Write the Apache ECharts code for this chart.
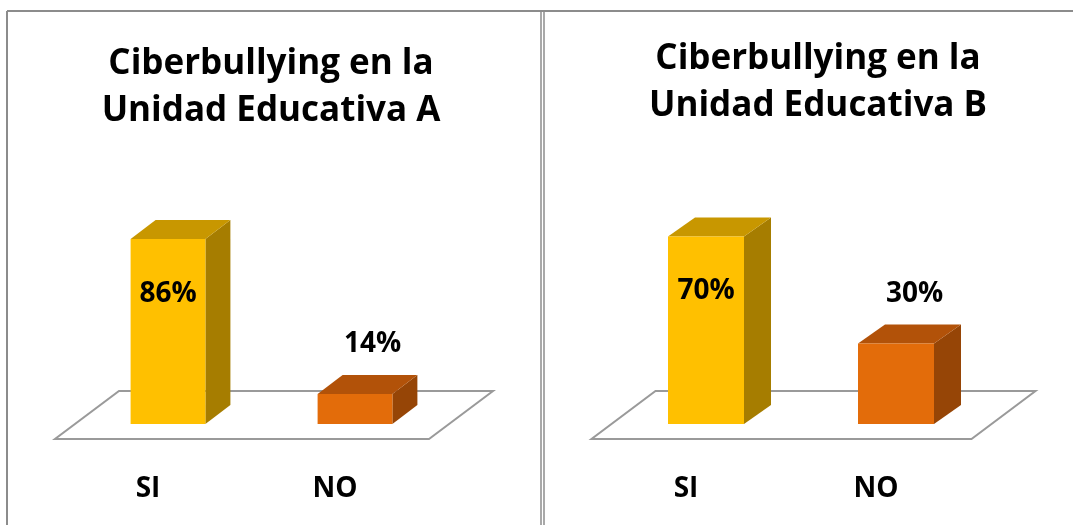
<!DOCTYPE html>
<html>
<head>
<meta charset="utf-8">
<script src="https://cdn.jsdelivr.net/npm/echarts@6/dist/echarts.min.js"></script>
<style>
  html, body { margin: 0; padding: 0; background: #fff; }
  #chart { width: 1073px; height: 525px; }
</style>
</head>
<body>
<div id="chart"></div>
<script>
// datos
var categories = ['SI', 'NO']
var valuesA = [86, 14]
var valuesB = [70, 30]
var titleA = 'Ciberbullying en la\nUnidad Educativa A'
var titleB = 'Ciberbullying en la\nUnidad Educativa B'

var FONT = '"Open Sans", "DejaVu Sans", sans-serif'
// colores: frente, arriba, lado
var barColors = [
  ['#FFC000', '#C89700', '#A67D00'],
  ['#E36C0A', '#B25209', '#964506']
]

function floorRender(params, api) {
  var cs = params.coordSys
  var bottom = cs.y + cs.height
  var l = cs.x, r = cs.x + cs.width
  return {
    type: 'polygon',
    shape: {
      points: [
        [l - 19.5, bottom + 15],
        [r - 19.5, bottom + 15],
        [r + 44.5, bottom - 33],
        [l + 44.5, bottom - 33]
      ]
    },
    style: { fill: '#fff', stroke: '#9a9a9a', lineWidth: 2 },
    z2: 0
  }
}

function makeBarRender(dx, dy) {
  return function (params, api) {
    var idx = api.value(0)
    var val = api.value(1)
    var base = api.coord([idx, 0])
    var top = api.coord([idx, val])
    var bw = api.size([1, 0])[0] * 0.4
    var x0 = base[0] - bw / 2
    var x1 = x0 + bw
    var yT = top[1]
    var yB = base[1]
    var c = barColors[idx]
    var inside = idx === 0
    return {
      type: 'group',
      children: [
        {
          type: 'polygon',
          shape: { points: [[x1, yT], [x1 + dx, yT - dy], [x1 + dx, yB - dy], [x1, yB]] },
          style: { fill: c[2] }
        },
        {
          type: 'polygon',
          shape: { points: [[x0, yT], [x1, yT], [x1 + dx, yT - dy], [x0 + dx, yT - dy]] },
          style: { fill: c[1] }
        },
        {
          type: 'rect',
          shape: { x: x0, y: yT, width: bw, height: yB - yT },
          style: { fill: c[0] }
        },
        {
          type: 'text',
          z2: 10,
          style: {
            text: val + '%',
            x: inside ? base[0] : base[0] + dx / 2 + 5,
            y: inside ? yT + 55 : yT - 50,
            textAlign: 'center',
            textVerticalAlign: 'middle',
            fill: '#000',
            font: 'bold 28px ' + FONT
          }
        }
      ]
    }
  }
}

function xAxisFor(gridIndex) {
  return {
    type: 'category',
    gridIndex: gridIndex,
    data: categories,
    axisLine: { show: false },
    axisTick: { show: false },
    splitLine: { show: false },
    axisLabel: {
      margin: 51,
      padding: [0, 40, 0, 0],
      color: '#000',
      fontFamily: FONT,
      fontWeight: 'bold',
      fontSize: 28
    }
  }
}

function yAxisFor(gridIndex) {
  return { type: 'value', gridIndex: gridIndex, min: 0, max: 100, show: false }
}

var chart = echarts.init(document.getElementById('chart'))

var titleStyle = { fontFamily: FONT, fontWeight: 'bold', fontSize: 35, lineHeight: 47, color: '#000' }

var option = {
  backgroundColor: '#fff',
  animation: false,
  title: [
    { text: titleA, left: 266, top: 36, textAlign: 'center', textStyle: titleStyle },
    { text: titleB, left: 813, top: 31, textAlign: 'center', textStyle: titleStyle }
  ],
  graphic: [
    { type: 'line', shape: { x1: 7, y1: 11, x2: 1073, y2: 11 }, style: { stroke: '#8c8c8c', lineWidth: 2 } },
    { type: 'line', shape: { x1: 7, y1: 11, x2: 7, y2: 525 }, style: { stroke: '#8c8c8c', lineWidth: 2 } },
    { type: 'line', shape: { x1: 541, y1: 11, x2: 541, y2: 525 }, style: { stroke: '#8c8c8c', lineWidth: 1.5 } },
    { type: 'line', shape: { x1: 544, y1: 11, x2: 544, y2: 525 }, style: { stroke: '#8c8c8c', lineWidth: 1.5 } }
  ],
  grid: [
    { left: 74.5, top: 209, width: 374, height: 215, outerBoundsMode: 'none' },
    { left: 611, top: 156, width: 380, height: 268, outerBoundsMode: 'none' }
  ],
  xAxis: [xAxisFor(0), xAxisFor(1)],
  yAxis: [yAxisFor(0), yAxisFor(1)],
  series: [
    {
      type: 'custom', xAxisIndex: 0, yAxisIndex: 0, z: 1,
      renderItem: floorRender, data: [[0, 0]], silent: true
    },
    {
      type: 'custom', xAxisIndex: 0, yAxisIndex: 0, z: 2,
      renderItem: makeBarRender(25, 19),
      data: valuesA.map(function (v, i) { return [i, v] })
    },
    {
      type: 'custom', xAxisIndex: 1, yAxisIndex: 1, z: 1,
      renderItem: floorRender, data: [[0, 0]], silent: true
    },
    {
      type: 'custom', xAxisIndex: 1, yAxisIndex: 1, z: 2,
      renderItem: makeBarRender(27, 19),
      data: valuesB.map(function (v, i) { return [i, v] })
    }
  ]
}

chart.setOption(option)
</script>
</body>
</html>
